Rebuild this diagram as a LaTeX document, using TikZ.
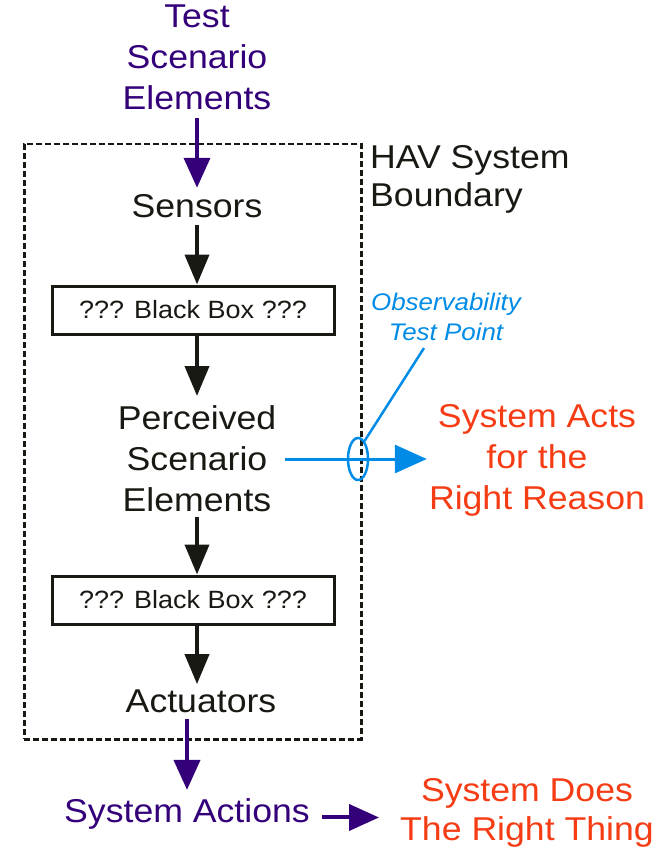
\documentclass[tikz,border=0pt]{standalone}
\usepackage{fontspec}
\setmainfont{Liberation Sans}[FakeStretch=1.08]
\usetikzlibrary{arrows.meta,shapes.geometric}
\definecolor{hpurple}{RGB}{52,0,122}
\definecolor{hred}{RGB}{245,60,20}
\definecolor{hblue}{RGB}{0,140,230}
\definecolor{hblack}{RGB}{25,25,20}
\tikzset{
  big/.style={font=\fontsize{33}{41}\selectfont, inner sep=0pt, align=center},
  ptext/.style={big, text=hpurple},
  rtext/.style={big, text=hred},
  btext/.style={big, text=hblack},
  bbox/.style={draw=hblack, line width=3pt, minimum width=282pt, minimum height=48pt, inner sep=0pt,
     font=\fontsize{25}{30}\selectfont, text=hblack},
  karrow/.style={draw=hblack, line width=4pt, -{Triangle[width=24pt,length=30pt]}},
  parrow/.style={draw=hpurple, line width=4pt, -{Triangle[width=26pt,length=30pt]}},
  barrow/.style={draw=hblue, line width=3pt, -{Triangle[width=28pt,length=32pt]}},
  boundary/.style={draw=hblack, line width=2.5pt, dash pattern=on 6pt off 3pt},
}
\begin{document}
\begin{tikzpicture}[x=1pt,y=-1pt]
\useasboundingbox (0,0) rectangle (668,850);
% boundary
\node[boundary, minimum width=337pt, minimum height=595pt, anchor=north west, inner sep=0pt] (bnd) at (23,143) {};
\node[btext, anchor=north west, align=left] (hav) at (370,145) {HAV System\\[-3pt]Boundary};
% chain
\node[ptext, anchor=north] (tse) at (197,5) {Test\\Scenario\\Elements};
\node[btext, anchor=base] (sen) at (197,218) {Sensors};
\node[bbox] (bb1) at (193,310) {??? Black Box ???};
\node[btext, anchor=north] (pse) at (197,405) {Perceived\\Scenario\\Elements};
\node[bbox] (bb2) at (193,600) {??? Black Box ???};
\node[btext, anchor=base] (act) at (201,712) {Actuators};
\node[ptext, anchor=base] (sac) at (187,822) {System Actions};
\node[rtext, anchor=north] (does) at (527,778) {System Does\\[-2pt]The Right Thing};
\node[rtext, anchor=north] (acts) at (537,404) {System Acts\\for the\\Right Reason};
% observability
\node[draw=hblue, line width=2.5pt, ellipse, minimum width=20pt, minimum height=42pt, inner sep=0pt] (tp) at (358,459) {};
\node[font=\fontsize{24}{30}\selectfont\itshape, text=hblue, align=center, inner sep=0pt, anchor=north] (obs) at (446,293) {Observability\\Test Point};
\coordinate (bs) at ([xshift=12pt,yshift=-4pt]sac.east);
% arrows
\draw[parrow, shorten <=8pt, shorten >=7pt] (tse.south) -- (sen.north);
\draw[karrow, shorten <=6pt] (sen.south) -- (bb1.north -| sen.south);
\draw[karrow] (bb1.south -| pse.north) -- ([yshift=9pt]pse.north);
\draw[karrow, shorten <=5pt] (pse.south) -- (bb2.north -| pse.south);
\draw[karrow] (bb2.south -| pse.south) -- ([yshift=5pt]act.north -| pse.south);
\draw[parrow] ([yshift=-6pt]act.south -| sac.north) -- ([yshift=8pt]sac.north);
\draw[barrow] ([xshift=9pt]tp.center -| pse.east) -- ([xshift=-2pt]acts.west |- tp.center);
\draw[draw=hblue, line width=2.5pt] (tp.70) -- ([xshift=-22pt,yshift=-7pt]obs.south);
\draw[parrow] (bs) -- ([xshift=-21pt]bs -| does.west);
\end{tikzpicture}
\end{document}
